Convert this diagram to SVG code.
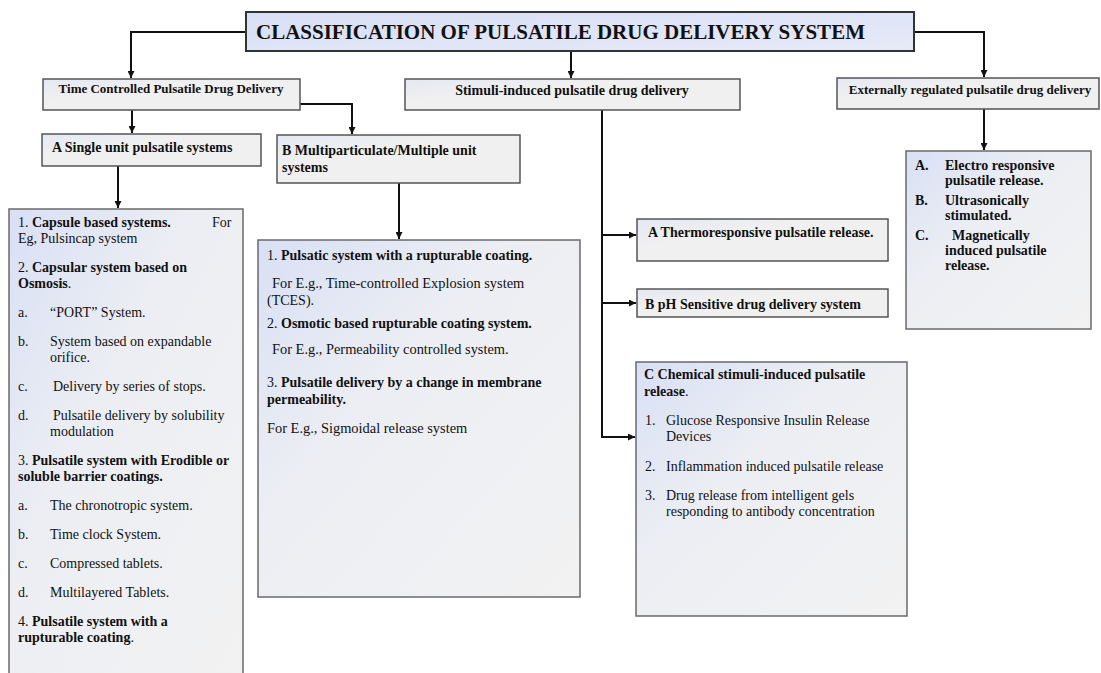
<svg xmlns="http://www.w3.org/2000/svg" width="1101" height="673" viewBox="0 0 1101 673">
<defs>
<linearGradient id="gList" x1="0" y1="0" x2="1" y2="1">
<stop offset="0" stop-color="#d9e0f5"/>
<stop offset="0.4" stop-color="#eceef3"/>
<stop offset="1" stop-color="#f2f2f2"/>
</linearGradient>
<linearGradient id="gHead" x1="0" y1="0" x2="1" y2="1">
<stop offset="0" stop-color="#e4e8f3"/>
<stop offset="0.35" stop-color="#f0f0f0"/>
<stop offset="1" stop-color="#f0f0f0"/>
</linearGradient>
<linearGradient id="gTitle" x1="0" y1="0" x2="1" y2="1">
<stop offset="0" stop-color="#d8dff5"/>
<stop offset="1" stop-color="#e6eaf8"/>
</linearGradient>
<marker id="arr" viewBox="0 0 8 8" refX="8" refY="4" markerWidth="7" markerHeight="7" markerUnits="userSpaceOnUse" orient="auto">
<path d="M0,0 L8,4 L0,8 z" fill="#111"/>
</marker>
</defs>
<style>
text{font-family:"Liberation Serif","Times New Roman",serif;fill:#111;font-size:14px}
.bd{font-weight:bold}
.head{fill:url(#gHead);stroke:#555;stroke-width:1.5}
.list{fill:url(#gList);stroke:#6a6a6a;stroke-width:1.5}
.title{fill:url(#gTitle);stroke:#333;stroke-width:2}
.c{fill:none;stroke:#111;stroke-width:2}
</style>
<rect width="1101" height="673" fill="#ffffff"/>

<g id="connectors">
<path class="c" d="M246,32 H131 V78" marker-end="url(#arr)"/>
<path class="c" d="M571,51 V78" marker-end="url(#arr)"/>
<path class="c" d="M914,32 H984 V77" marker-end="url(#arr)"/>
<path class="c" d="M132,110 V133" marker-end="url(#arr)"/>
<path class="c" d="M300,104 H352 V134" marker-end="url(#arr)"/>
<path class="c" d="M118,166 V208" marker-end="url(#arr)"/>
<path class="c" d="M399,183 V239" marker-end="url(#arr)"/>
<path class="c" d="M602,109 V437 H635" marker-end="url(#arr)"/>
<path class="c" d="M602,235 H636" marker-end="url(#arr)"/>
<path class="c" d="M602,303 H636" marker-end="url(#arr)"/>
<path class="c" d="M984,109 V150" marker-end="url(#arr)"/>
</g>

<g id="title">
<rect class="title" x="246" y="12" width="668" height="39"/>
<text x="256" y="39" class="bd" style="font-size:21px">CLASSIFICATION OF PULSATILE DRUG DELIVERY SYSTEM</text>
</g>

<g id="time-controlled">
<rect class="head" x="43" y="79" width="257" height="31"/>
<text x="171" y="93" class="bd" text-anchor="middle" style="font-size:13px">Time Controlled Pulsatile Drug Delivery</text>
</g>

<g id="stimuli-induced">
<rect class="head" x="405" y="79" width="335" height="31"/>
<text x="572" y="95" class="bd" text-anchor="middle">Stimuli-induced pulsatile drug delivery</text>
</g>

<g id="externally-regulated">
<rect class="head" x="837" y="78" width="262" height="31"/>
<text x="970" y="94" class="bd" text-anchor="middle" style="font-size:13px">Externally regulated pulsatile drug delivery</text>
</g>

<g id="single-unit">
<rect class="head" x="42" y="134" width="219" height="32"/>
<text x="52" y="152" class="bd">A Single unit pulsatile systems</text>
</g>

<g id="multiparticulate">
<rect class="head" x="277" y="135" width="243" height="48"/>
<text x="282" y="155" class="bd">B Multiparticulate/Multiple unit</text>
<text x="282" y="172" class="bd">systems</text>
</g>

<g id="single-unit-list">
<rect class="list" x="9" y="209" width="234" height="470"/>
<text x="18" y="227">1. <tspan class="bd">Capsule based systems.</tspan></text>
<text x="212" y="227">For</text>
<text x="18" y="243">Eg, Pulsincap system</text>
<text x="18" y="272">2. <tspan class="bd">Capsular system based on</tspan></text>
<text x="18" y="288"><tspan class="bd">Osmosis</tspan>.</text>
<text x="18" y="317">a.</text><text x="50" y="317">“PORT” System.</text>
<text x="18" y="346">b.</text><text x="50" y="346">System based on expandable</text>
<text x="50" y="362">orifice.</text>
<text x="18" y="391">c.</text><text x="53" y="391">Delivery by series of stops.</text>
<text x="18" y="420">d.</text><text x="53" y="420">Pulsatile delivery by solubility</text>
<text x="50" y="436">modulation</text>
<text x="18" y="465">3. <tspan class="bd">Pulsatile system with Erodible or</tspan></text>
<text x="18" y="481" class="bd">soluble barrier coatings.</text>
<text x="18" y="510">a.</text><text x="50" y="510">The chronotropic system.</text>
<text x="18" y="539">b.</text><text x="50" y="539">Time clock System.</text>
<text x="18" y="568">c.</text><text x="50" y="568">Compressed tablets.</text>
<text x="18" y="597">d.</text><text x="50" y="597">Multilayered Tablets.</text>
<text x="18" y="626">4. <tspan class="bd">Pulsatile system with a</tspan></text>
<text x="18" y="642"><tspan class="bd">rupturable coating</tspan>.</text>
</g>

<g id="multiparticulate-list">
<rect class="list" x="258" y="240" width="322" height="357"/>
<text x="267" y="260">1. <tspan class="bd">Pulsatic system with a rupturable coating.</tspan></text>
<text x="272" y="288" style="font-size:14.4px">For E.g., Time-controlled Explosion system</text>
<text x="267" y="305">(TCES).</text>
<text x="267" y="328">2. <tspan class="bd">Osmotic based rupturable coating system.</tspan></text>
<text x="272" y="354" style="font-size:14.4px">For E.g., Permeability controlled system.</text>
<text x="267" y="387">3. <tspan class="bd">Pulsatile delivery by a change in membrane</tspan></text>
<text x="267" y="404" class="bd">permeability.</text>
<text x="267" y="433" style="font-size:14.4px">For E.g., Sigmoidal release system</text>
</g>

<g id="thermoresponsive">
<rect class="head" x="637" y="219" width="251" height="42"/>
<text x="648" y="237" class="bd">A Thermoresponsive pulsatile release.</text>
</g>

<g id="ph-sensitive">
<rect class="head" x="637" y="289" width="251" height="28"/>
<text x="645" y="309" class="bd">B pH Sensitive drug delivery system</text>
</g>

<g id="chemical-stimuli">
<rect class="list" x="636" y="362" width="271" height="254"/>
<text x="644" y="379" class="bd">C  Chemical stimuli-induced pulsatile</text>
<text x="644" y="396"><tspan class="bd">release</tspan>.</text>
<text x="645" y="425">1.</text><text x="666" y="425">Glucose Responsive Insulin Release</text>
<text x="666" y="441">Devices</text>
<text x="645" y="471">2.</text><text x="666" y="471">Inflammation induced pulsatile release</text>
<text x="645" y="500">3.</text><text x="666" y="500">Drug release from intelligent gels</text>
<text x="666" y="516">responding to antibody concentration</text>
</g>

<g id="external-list">
<rect class="list" x="906" y="151" width="185" height="178"/>
<text x="915" y="170" class="bd">A.</text><text x="945" y="170" class="bd">Electro responsive</text>
<text x="945" y="185" class="bd">pulsatile release.</text>
<text x="915" y="205" class="bd">B.</text><text x="945" y="205" class="bd">Ultrasonically</text>
<text x="945" y="220" class="bd">stimulated.</text>
<text x="915" y="240" class="bd">C.</text><text x="952" y="240" class="bd">Magnetically</text>
<text x="945" y="255" class="bd">induced pulsatile</text>
<text x="945" y="270" class="bd">release.</text>
</g>
</svg>
